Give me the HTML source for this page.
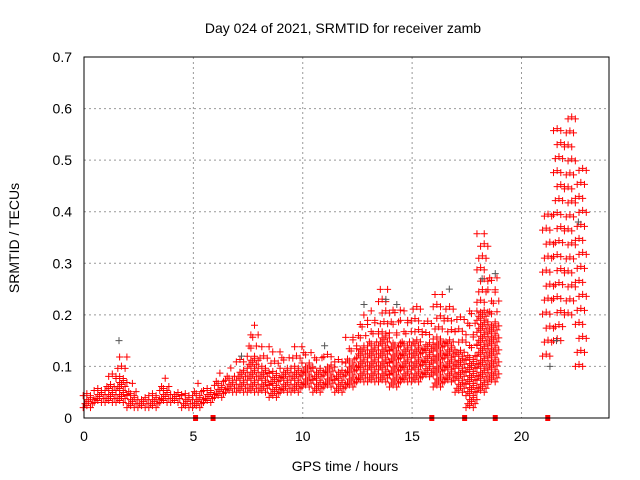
<!DOCTYPE html>
<html><head><meta charset="utf-8"><style>
body{margin:0;background:#fff;}
svg{display:block;font-family:"Liberation Sans",sans-serif;}
</style></head><body>
<svg id="chart" width="640" height="480" viewBox="0 0 640 480">
<text x="343" y="33" font-size="14" text-anchor="middle">Day 024 of 2021, SRMTID for receiver zamb</text>
<text transform="translate(19,238) rotate(-90)" font-size="14" text-anchor="middle">SRMTID / TECUs</text>
<text x="345" y="471" font-size="14" text-anchor="middle">GPS time / hours</text>
<g id="grid"></g><g id="marks"></g><g id="axes"></g>
</svg>
<script>
const binTimes=[0,0.5,1,1.5,2,2.5,3,3.5,4,4.5,5,5.5,6,6.5,7,7.5,8,8.5,9,9.5,10,10.5,11,11.5,12,12.5,13,13.5,14,14.5,15,15.5,16,16.5,17,17.5,18,18.5,21,21.5,22,22.5];
const binLow=[.02,.03,.03,.03,.02,.02,.02,.03,.03,.02,.02,.03,.04,.05,.05,.05,.05,.04,.05,.05,.06,.05,.06,.05,.06,.07,.07,.07,.06,.07,.07,.08,.06,.07,.05,.02,.05,.07,.12,.15,.20,.10];
const binHigh=[.06,.07,.09,.12,.07,.05,.06,.08,.06,.06,.07,.07,.09,.10,.12,.18,.14,.13,.13,.14,.14,.13,.13,.12,.16,.20,.21,.25,.22,.21,.22,.20,.24,.22,.20,.21,.36,.29,.40,.58,.60,.50];
const grayTimes=[1.6,7.2,11,12.8,13.8,14.3,16.7,18.2,18.8,21.3,21.6,22.6];
const grayValues=[.15,.12,.14,.22,.23,.22,.25,.27,.28,.10,.15,.38];
const zeroTimes=[5.1,5.9,15.9,17.4,18.8,21.2];
const xTicks=[0,5,10,15,20];
const yTicks=[0,0.1,0.2,0.3,0.4,0.5,0.6,0.7];
const L=84,R=609,T=57,B=418,XMAX=24,YMAX=0.7;
const xs=t=>L+t/XMAX*(R-L), ys=v=>B-v/YMAX*(B-T);
const NS="http://www.w3.org/2000/svg";
function mk(tag,attrs,parent){const e=document.createElementNS(NS,tag);for(const k in attrs)e.setAttribute(k,attrs[k]);parent.appendChild(e);return e;}
const grid=document.getElementById('grid'),marks=document.getElementById('marks'),axes=document.getElementById('axes');
xTicks.forEach(t=>{const l=mk('line',{x1:xs(t),x2:xs(t),y1:T,y2:B,stroke:'#999','stroke-dasharray':'2,3'},grid);


const tx=mk('text',{x:xs(t),y:B+23,'font-size':14,'text-anchor':'middle'},axes);tx.textContent=t;

});
yTicks.forEach(v=>{const l=mk('line',{x1:L,x2:R,y1:ys(v),y2:ys(v),stroke:'#999','stroke-dasharray':'2,3'},grid);


const tx=mk('text',{x:L-12,y:ys(v)+5,'font-size':14,'text-anchor':'end'},axes);tx.textContent=v;

});
const frame=mk('rect',{x:L,y:T,width:R-L,height:B-T,fill:'none',stroke:'#000','stroke-width':1},axes);


function cross(x,y){return `M${x-3.5},${y}h7M${x},${y-3.5}v7`;}
let d='';
binTimes.forEach((t,i)=>{const lo=binLow[i],hi=binHigh[i];const sparse=t>=21;
const cols=3;
for(let c=0;c<cols;c++){const x=xs(t+c*0.5/cols)+1;let k=0;const y0=ys(lo),y1=ys(hi);const span=y0-y1;
for(let y=y0-(c%2)*2;y>=y1;){d+=cross(x+((k++)%3-1)*1.8,y);
const frac=(y0-y)/Math.max(span,1);
y-=sparse?14:(frac<0.5?4:7+frac*6);}}});
const red=mk('path',{d:d,stroke:'#f00','stroke-width':1,fill:'none'},marks);


let g='';grayTimes.forEach((t,i)=>{g+=cross(xs(t),ys(grayValues[i]));});
const gray=mk('path',{d:g,stroke:'#555','stroke-width':1,fill:'none'},marks);


zeroTimes.forEach(t=>{const r=mk('rect',{x:xs(t)-2.5,y:B-3,width:5,height:6,fill:'#f00'},marks);

});
</script>
</body></html>
